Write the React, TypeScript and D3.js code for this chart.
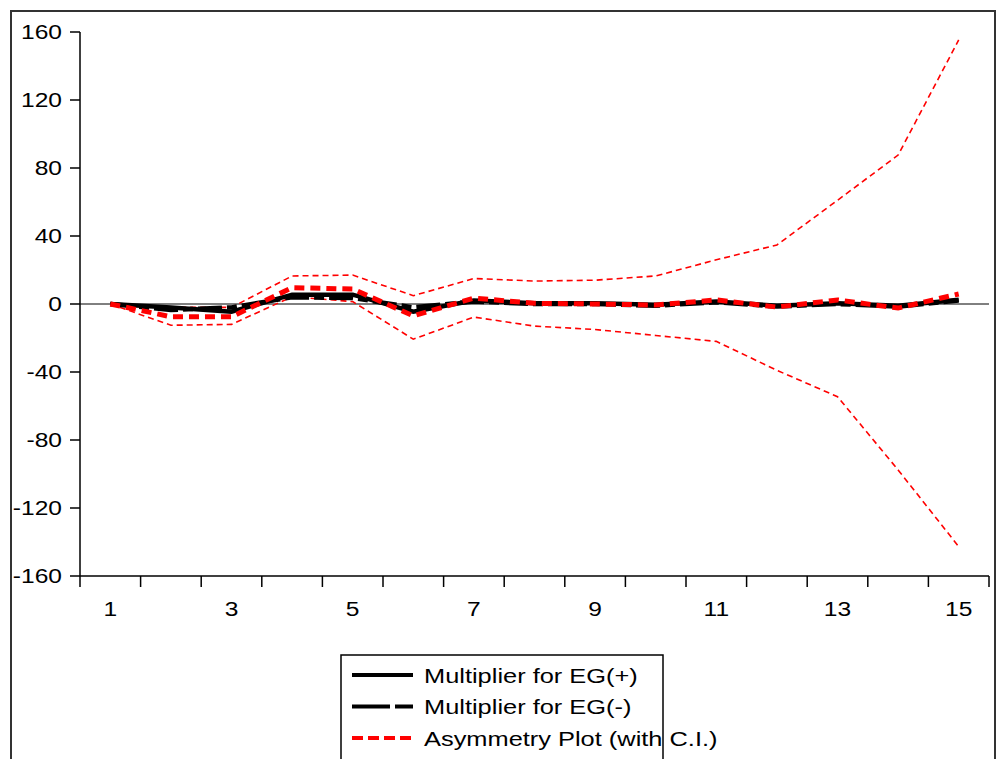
import React from "react";
import * as d3 from "d3";

const categories = ["1","2","3","4","5","6","7","8","9","10","11","12","13","14","15"];
const xTickLabels = ["1","3","5","7","9","11","13","15"];
const yTicks = [160, 120, 80, 40, 0, -40, -80, -120, -160];

const egPlus = [0, -2, -4.5, 5.5, 5.5, -4.5, 2, 0.5, 0.5, -0.5, 1.5, -1, 0.5, -1, 2.5];
const egMinus = [0, -3.5, -2, 4, 3.5, -2, 1.5, 0, 0, -1, 1, -1.5, 0, -1.5, 2];
const asym = [0, -7.5, -7.5, 9.6, 8.8, -7, 3.5, 0.4, 0, -0.6, 2.4, -1.8, 2.4, -2.4, 5.9];
const ciUpper = [0, -2, -2, 16.5, 17, 4.9, 15, 13.5, 14, 16.5, 26, 34.7, 61, 87.6, 155.3];
const ciLower = [0, -12.5, -12, 4.3, 1.4, -20.7, -7.7, -13, -15, -18.5, -22, -39, -54.5, -97.6, -142.7];

const legendItems = [
  { label: "Multiplier for EG(+)", color: "#000", width: 4, dash: "none" },
  { label: "Multiplier for EG(-)", color: "#000", width: 4, dash: "38,5,18,5" },
  { label: "Asymmetry Plot (with C.I.)", color: "#ff0000", width: 4, dash: "11,5" },
];

export default function App() {
  const W = 1000, H = 759;
  const left = 80, right = 989, top = 32, bottom = 576;
  const x = d3.scaleBand<string>().domain(categories).range([left, right]);
  const bw = x.bandwidth();
  const cx = (i: number) => (x(categories[i]) as number) + bw / 2;
  const y = d3.scaleLinear().domain([-160, 160]).range([bottom, top]);
  const line = d3.line<number>().x((_, i) => cx(i)).y((d) => y(d));

  const fontFamily = "'Liberation Sans', Arial, sans-serif";
  const tickBounds = [...categories.map((c) => x(c) as number), right];

  return (
    <svg width={W} height={H} style={{ position: "absolute", left: 0, top: 0, background: "#fff" }}>
      <rect x={0} y={0} width={W} height={H} fill="#fff" />
      {/* outer frame */}
      <path d={`M11,${H + 5} L11,11 L995,11 L995,${H + 5}`} fill="none" stroke="#333" strokeWidth={2} />

      {/* zero line */}
      <line x1={left} x2={right} y1={y(0)} y2={y(0)} stroke="#000" strokeWidth={1} />

      {/* axes */}
      <line x1={left} x2={left} y1={top} y2={bottom} stroke="#000" strokeWidth={1.5} />
      <line x1={left} x2={right} y1={bottom} y2={bottom} stroke="#000" strokeWidth={1.5} />
      {yTicks.map((t) => (
        <g key={t}>
          <line x1={left - 10} x2={left} y1={y(t)} y2={y(t)} stroke="#000" strokeWidth={1.5} />
          <text
            transform={`translate(62,${y(t) + 7}) scale(1.17,1)`}
            textAnchor="end"
            fontFamily={fontFamily}
            fontSize={21}
            fill="#000"
          >
            {t}
          </text>
        </g>
      ))}
      {tickBounds.map((b, i) => (
        <line key={i} x1={b} x2={b} y1={bottom} y2={bottom + 11} stroke="#000" strokeWidth={1.5} />
      ))}
      {categories.map((c, i) =>
        xTickLabels.includes(c) ? (
          <text
            key={c}
            transform={`translate(${cx(i)},${bottom + 40}) scale(1.17,1)`}
            textAnchor="middle"
            fontFamily={fontFamily}
            fontSize={21}
            fill="#000"
          >
            {c}
          </text>
        ) : null
      )}

      {/* series */}
      <path d={line(ciUpper) || ""} fill="none" stroke="#ff0000" strokeWidth={1.6} strokeDasharray="6,4" />
      <path d={line(ciLower) || ""} fill="none" stroke="#ff0000" strokeWidth={1.6} strokeDasharray="6,4" />
      <path d={line(egPlus) || ""} fill="none" stroke="#000" strokeWidth={4.5} />
      <path d={line(egMinus) || ""} fill="none" stroke="#000" strokeWidth={4.5} strokeDasharray="24,5,10,5" />
      <path d={line(asym) || ""} fill="none" stroke="#ff0000" strokeWidth={5} strokeDasharray="10,6" />

      {/* legend */}
      <rect x={341} y={655} width={322} height={H} fill="#fff" stroke="#000" strokeWidth={1.5} />
      {legendItems.map((it, i) => {
        const ly = 675 + i * 31.5;
        return (
          <g key={it.label}>
            <line x1={352} x2={413} y1={ly} y2={ly} stroke={it.color} strokeWidth={it.width} strokeDasharray={it.dash} />
            <text
              transform={`translate(424,${ly + 7.5}) scale(1.21,1)`}
              fontFamily={fontFamily}
              fontSize={21}
              fill="#000"
            >
              {it.label}
            </text>
          </g>
        );
      })}
    </svg>
  );
}
